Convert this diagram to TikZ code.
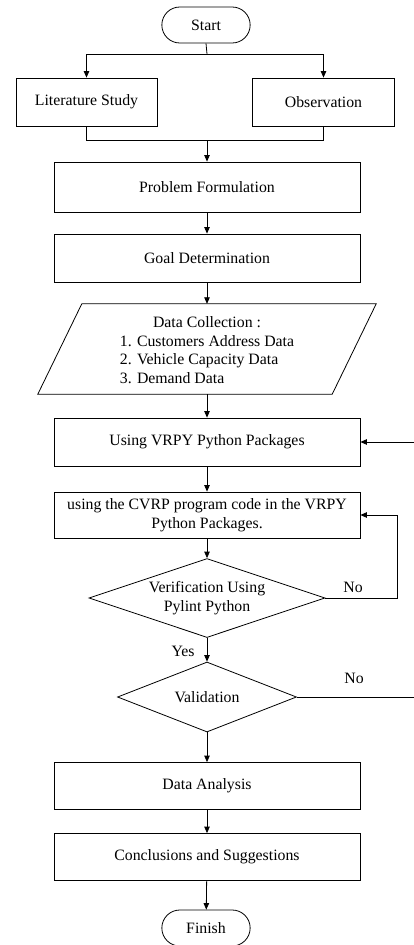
\documentclass[tikz,border=0pt]{standalone}
\usepackage{fontspec}
\setmainfont{Liberation Serif}
\usetikzlibrary{shapes.misc,shapes.geometric,arrows.meta}
\begin{document}
\begin{tikzpicture}[x=1pt,y=-1pt,
  every node/.style={font=\fontsize{15.8}{18.5}\selectfont},
  box/.style={draw,line width=0.8pt,rectangle,minimum width=306pt,align=center,inner sep=2pt},
  term/.style={draw,line width=0.8pt,rounded rectangle,minimum width=95pt,minimum height=36pt},
  dec/.style={draw,line width=0.8pt,diamond,aspect=3,inner sep=0pt,align=center},
  conn/.style={line width=0.8pt},
  arr/.style={line width=0.8pt,-{Triangle[length=6.5pt,width=5.5pt]}},
  lbl/.style={inner sep=0pt}]
\useasboundingbox (0,0) rectangle (414,945);
\clip (0,0) rectangle (414,945);
\node[term] (start) at (206,25) {Start};
\node[box,minimum width=141pt,minimum height=48pt] (lit) at (86.5,102) {Literature Study};
\node[box,minimum width=142pt,minimum height=48pt] (obs) at (323.5,102) {Observation};
\node[box,minimum height=50pt] (prob) at (207,187) {Problem Formulation};
\node[box,minimum height=48pt] (goal) at (207,258) {Goal Determination};
\node[minimum width=294pt,minimum height=90pt,inner sep=0pt] (data) at (207,349) {};
\draw[conn] ([xshift=22pt]data.north west) -- ([xshift=22pt]data.north east)
  -- ([xshift=-22pt]data.south east) -- ([xshift=-22pt]data.south west) -- cycle;
\node[align=center,inner sep=0pt] (datatxt) at (207,352.5)
  {Data Collection :\\[4.5pt]\begin{tabular}{@{}l@{}}1. Customers Address Data\\ 2. Vehicle Capacity Data\\ 3. Demand Data\end{tabular}};
\node[box,minimum height=48pt] (vrpy) at (207,442) {Using VRPY Python Packages};
\node[box,minimum height=46pt] (cvrp) at (207,515) {using the CVRP program code in the VRPY\\ Python Packages.};
\node[dec,minimum width=236pt,minimum height=79pt] (ver) at (207,598) {Verification Using\\ Pylint Python};
\node[dec,minimum width=179pt,minimum height=70pt] (val) at (207,697) {Validation};
\node[box,minimum height=47pt] (ana) at (207,786) {Data Analysis};
\node[box,minimum height=47pt] (conc) at (207,857) {Conclusions and Suggestions};
\node[term] (fin) at (206,928) {Finish};
% connectors
\coordinate (s1) at (207,54);
\coordinate (j1) at (207,140);
\draw[conn] (start.south) -- (s1);
\draw[arr] (s1) -| (lit.north);
\draw[arr] (s1) -| (obs.north);
\draw[conn] (lit.south) |- (j1);
\draw[conn] (obs.south) |- (j1);
\draw[arr] (j1) -- (prob.north);
\draw[arr] (prob) -- (goal);
\draw[arr] (goal) -- (data.north);
\draw[arr] (data.south) -- (vrpy);
\draw[arr] (vrpy) -- (cvrp);
\draw[arr] (cvrp) -- (ver.north);
\draw[arr] (ver.south) -- (val.north);
\node[lbl] (yes) at (183,651) {Yes};
\draw[arr] (val.south) -- (ana);
\draw[arr] (ana) -- (conc);
\draw[arr] (conc) -- (fin);
\coordinate (r1) at (397,598);
\draw[arr] (ver.east) -- (r1) |- (cvrp.east);
\node[lbl] (no1) at (353,587) {No};
\coordinate (r2) at (424,697);
\draw[arr] (val.east) -- (r2) |- (vrpy.east);
\node[lbl] (no2) at (354,678) {No};
\end{tikzpicture}
\end{document}
